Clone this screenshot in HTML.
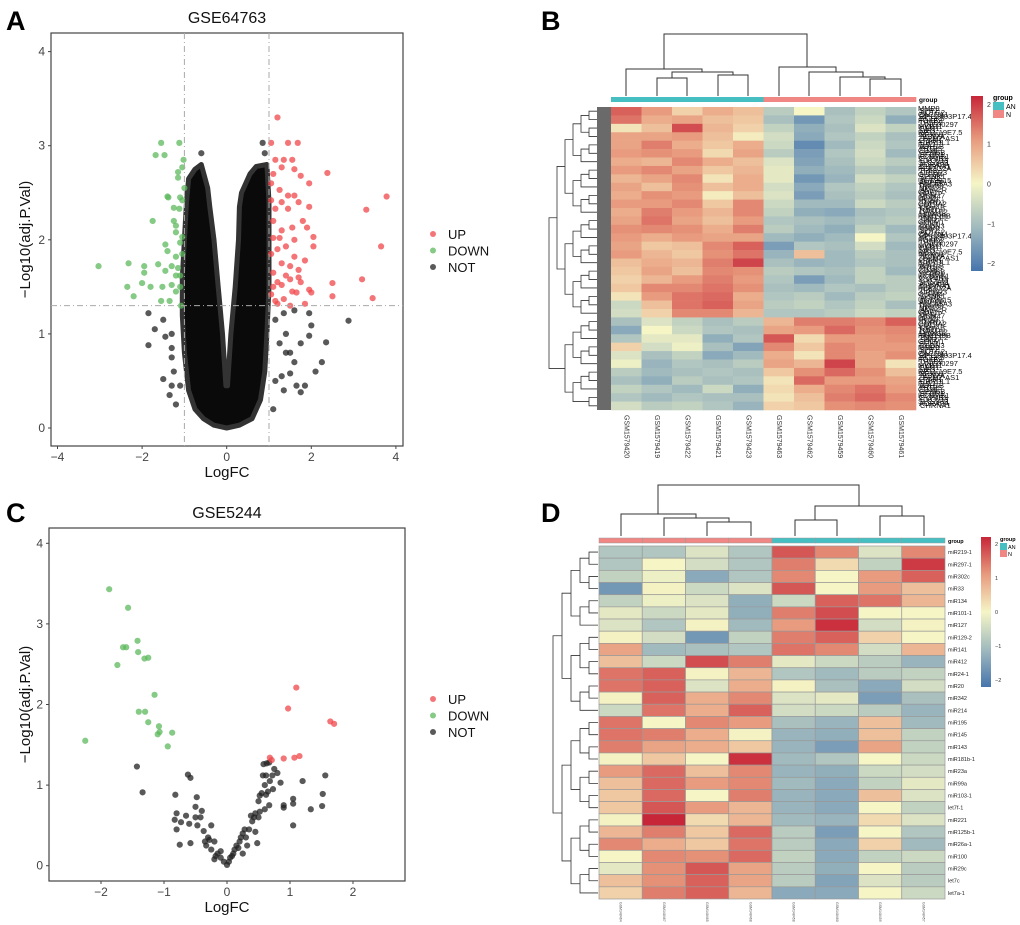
<!DOCTYPE html>
<html><head><meta charset="utf-8">
<style>
html,body{margin:0;padding:0;background:#fff;}
svg{display:block;font-family:"Liberation Sans",sans-serif;}
</style></head>
<body>
<svg id="fig" width="1020" height="925" viewBox="0 0 1020 925" xmlns="http://www.w3.org/2000/svg">
<g id="gA"></g>
<g id="gC"></g>
<g id="gB"></g>
<g id="gD"></g>
<text x="6" y="30" font-size="27" font-weight="bold">A</text>
<text x="541" y="30" font-size="27" font-weight="bold">B</text>
<text x="6" y="522" font-size="27" font-weight="bold">C</text>
<text x="541" y="522" font-size="27" font-weight="bold">D</text>
</svg>
<script>
// ---------- Panel A data ----------
const aUpX=[1.2,1.05,1.45,1.68,1.15,1.35,1.55,1.1,1.3,1.6,1.75,2.38,1.95,1.05,1.25,1.45,1.6,1.05,1.3,1.7,3.78,1.95,3.3,1.15,1.45,1.8,1.55,1.1,1.3,1.9,2.05,1.1,1.25,1.6,1.2,1.4,2.05,3.65,1.05,1.6,1.85,1.3,1.5,1.7,1.1,1.4,1.7,3.2,1.5,1.75,2.5,1.3,1.1,1.95,2.0,1.55,1.65,2.5,3.45,1.15,1.35,1.85,1.2,1.5,1.05,1.2];
const aUpY=[3.3,3.03,3.03,3.03,2.85,2.85,2.85,2.7,2.77,2.75,2.68,2.71,2.6,2.6,2.53,2.47,2.47,2.42,2.4,2.4,2.46,2.35,2.32,2.33,2.33,2.2,2.13,2.2,2.1,2.13,2.03,2.02,2.02,2.0,1.9,1.93,1.93,1.93,1.85,1.82,1.78,1.75,1.72,1.68,1.65,1.62,1.6,1.58,1.58,1.55,1.54,1.52,1.5,1.47,1.44,1.45,1.44,1.4,1.38,1.35,1.37,1.32,1.32,1.3,1.42,1.55];
const aDnX=[-1.55,-1.12,-1.68,-1.47,-1.02,-1.05,-1.15,-1.15,-1.0,-1.4,-1.38,-1.1,-1.05,-1.25,-1.12,-1.75,-1.25,-1.2,-1.2,-1.05,-1.1,-1.45,-1.4,-1.2,-1.05,-3.03,-2.32,-1.95,-1.62,-1.3,-1.15,-1.45,-1.95,-1.2,-1.1,-2.35,-2.0,-1.8,-1.52,-1.3,-1.1,-1.2,-2.2,-1.55,-1.35,-1.08];
const aDnY=[3.03,3.03,2.9,2.9,2.85,2.77,2.72,2.66,2.55,2.46,2.45,2.45,2.42,2.34,2.33,2.2,2.2,2.15,2.08,2.03,1.97,1.95,1.88,1.82,1.85,1.72,1.75,1.72,1.74,1.72,1.7,1.67,1.65,1.62,1.62,1.5,1.54,1.5,1.5,1.52,1.5,1.45,1.4,1.35,1.35,1.3];
const aNotX=[-1.85,-1.85,-1.7,-1.5,-1.5,-1.35,-1.3,-1.45,-1.3,-1.3,2.88,2.35,2.25,2.1,2.0,1.95,1.95,1.85,1.75,1.65,1.5,1.6,1.75,1.5,1.35,1.4,1.6,0.85,0.9,-0.6,1.3,1.15,-1.3,-1.25,-1.1,-1.2,1.1,1.15,1.35,1.4,1.25];
const aNotY=[1.22,0.88,1.05,1.15,0.52,0.35,0.45,0.97,1.0,0.85,1.14,0.91,0.7,0.6,1.09,0.98,1.22,0.45,0.38,0.45,0.58,0.7,0.9,0.8,0.4,1.0,1.25,3.03,2.92,2.92,0.55,0.5,0.75,0.6,0.45,0.25,0.2,1.15,1.22,0.8,0.9];
// density envelope of the non-significant cloud (LogFC, -log10 p)
const aCloudX=[0,-0.3,-0.55,-0.75,-0.9,-1.0,-1.05,-1.05,-1.0,-0.95,-0.9,-0.75,-0.6,-0.45,-0.4,-0.3,-0.2,-0.1,-0.02,0.02,0.1,0.2,0.28,0.3,0.35,0.55,0.7,0.95,1.0,1.0,1.0,0.95,0.9,0.8,0.6,0.3];
const aCloudY=[0,0.03,0.1,0.2,0.4,0.8,1.2,1.6,2.0,2.4,2.65,2.75,2.8,2.55,2.35,2.0,1.5,1.0,0.45,0.45,1.0,1.5,2.0,2.35,2.5,2.7,2.78,2.8,2.4,2.0,1.5,1.0,0.6,0.3,0.1,0.03];
const xTicksA=[-4,-2,0,2,4];
const yTicks=[0,1,2,3,4];
// ---------- Panel C data ----------
const cDnX=[-1.87,-1.57,-1.42,-1.65,-1.6,-1.41,-1.31,-1.25,-1.74,-1.15,-1.4,-1.3,-1.25,-1.08,-1.07,-1.1,-0.87,-0.94,-2.25];
const cDnY=[3.43,3.2,2.79,2.71,2.71,2.65,2.57,2.58,2.49,2.12,1.91,1.91,1.78,1.73,1.66,1.63,1.65,1.48,1.55];
const cUpX=[1.1,0.97,1.64,1.7,0.68,0.71,0.9,1.07,1.15];
const cUpY=[2.21,1.95,1.79,1.76,1.34,1.31,1.33,1.34,1.36];
const cNotX=[-1.43,-1.34,-0.62,-0.58,-0.82,-0.48,-0.5,-0.8,-0.65,-0.83,-0.73,-0.6,-0.5,-0.4,-0.42,-0.47,-0.25,-0.37,-0.8,-0.75,-0.58,-0.35,-0.3,-0.2,-0.25,-0.15,-0.1,-0.05,0,0.03,0.08,0.12,0.15,0.2,0.25,0.3,0.35,0.4,0.45,0.5,0.55,0.6,0.62,0.57,0.58,0.63,0.67,0.75,0.8,0.72,0.68,0.62,0.52,0.5,0.52,0.48,0.32,0.65,0.73,0.85,0.6,0.67,0.9,0.9,1.05,1.05,1.05,1.2,1.33,1.52,1.56,1.51,0.43,0.38,0.45,0.28,0.22,0.18,0.1,-0.1,-0.18,-0.28,-0.33,-0.2,0.05,0.25];
const cNotY=[1.23,0.91,1.13,1.09,0.88,0.85,0.73,0.65,0.62,0.57,0.54,0.52,0.6,0.68,0.6,0.5,0.5,0.43,0.45,0.26,0.28,0.3,0.35,0.3,0.2,0.15,0.1,0.05,0.01,0.05,0.12,0.2,0.25,0.3,0.4,0.35,0.45,0.55,0.65,0.8,0.9,1.0,1.12,1.12,1.26,1.27,1.28,1.2,1.15,1.12,1.05,0.88,0.87,0.6,0.67,0.28,0.25,0.92,0.95,1.03,0.7,0.75,0.75,0.72,0.83,0.77,0.5,1.05,0.7,0.89,1.12,0.74,0.6,0.62,0.42,0.45,0.35,0.22,0.15,0.18,0.12,0.32,0.25,0.08,0.1,0.15];
const xTicksC=[-2,-1,0,1,2];
// ---------- Panel B data ----------
const bSamples=["GSM1579420","GSM1579419","GSM1579422","GSM1579421","GSM1579423","GSM1579463","GSM1579462","GSM1579459","GSM1579460","GSM1579461"];
const bGroups=["AN","AN","AN","AN","AN","N","N","N","N","N"];
const bValues=[
[1.6,1.0,0.4,0.8,0.6,-0.7,0.0,-0.9,-0.6,-0.8],[1.4,0.8,0.9,0.6,0.5,-0.9,-1.6,-0.8,-0.5,-1.2],
[0.2,0.6,1.8,0.7,0.4,-0.6,-1.2,-0.9,-0.3,-0.6],[0.9,0.9,1.0,0.6,0.1,-0.4,-1.3,-0.8,-0.6,-0.9],
[0.9,1.3,0.8,0.5,0.8,-0.5,-1.8,-1.0,-0.5,-0.8],[1.0,1.1,1.0,0.3,0.9,-0.7,-1.5,-0.8,-0.4,-1.0],
[0.8,0.7,1.2,0.8,0.6,-0.3,-1.4,-0.9,-0.5,-0.7],[1.0,1.2,0.9,0.5,0.7,-0.2,-1.2,-1.0,-0.7,-0.9],
[0.7,0.9,1.2,0.2,0.8,-0.2,-1.6,-1.1,-0.4,-0.6],[0.9,0.6,1.1,0.6,0.8,-0.4,-1.3,-0.8,-0.6,-0.8],
[0.8,1.1,1.0,0.1,0.6,-0.3,-1.5,-0.9,-0.7,-0.9],[1.0,1.0,1.2,0.5,1.2,-0.5,-1.0,-1.0,-0.5,-0.7],
[0.8,1.3,1.0,0.7,1.2,-0.6,-1.2,-1.3,-0.9,-0.8],[0.9,1.4,0.9,0.6,1.0,-0.8,-0.9,-1.0,-0.8,-0.7],
[1.1,1.2,1.1,0.8,1.3,-0.7,-1.0,-1.2,-0.6,-1.0],[1.0,0.8,1.0,0.9,0.9,-1.0,-1.2,-1.0,0.0,-0.8],
[0.9,0.5,0.6,1.2,1.6,-1.5,-0.8,-0.9,-0.4,-1.0],[1.0,0.7,0.5,1.1,1.4,-1.1,0.6,-1.0,-0.7,-0.9],
[0.6,0.8,0.7,1.3,1.9,-0.9,-1.1,-1.0,-0.8,-0.9],[0.5,0.9,0.6,1.2,1.1,-0.7,-0.8,-0.9,-0.6,-1.0],
[0.4,0.7,1.0,1.3,1.0,-0.8,-1.5,-1.0,-0.6,-0.7],[0.5,1.2,1.2,1.4,1.1,-0.9,-1.0,-0.8,-0.9,-0.7],
[0.2,1.0,1.4,1.5,0.8,-0.8,-0.7,-1.0,-0.7,-0.6],[-0.5,0.6,1.4,1.6,0.9,-0.7,-0.6,-0.8,-0.6,-0.9],
[-0.4,0.4,1.2,1.2,0.7,-0.8,-0.8,-0.7,-0.5,-0.6],
[-0.9,-0.3,-0.6,-0.9,-0.7,0.7,1.3,1.3,1.2,1.6],[-1.3,0.0,-0.5,-0.8,-0.9,0.9,1.0,1.5,1.1,1.2],
[-0.8,-0.2,-0.2,-1.2,-0.8,1.7,0.3,1.0,1.0,1.1],[0.4,-0.4,-0.1,-0.9,-1.4,1.2,0.5,1.2,1.0,1.0],
[-0.3,-0.9,-0.6,-1.3,-1.0,0.8,0.2,1.2,0.9,1.1],[-0.1,-1.1,-0.8,-0.9,-0.7,0.9,0.7,1.9,0.9,0.2],
[-0.7,-1.0,-0.9,-0.8,-0.9,0.5,1.1,1.5,1.1,0.6],[-0.9,-1.2,-0.7,-0.9,-0.8,0.2,1.5,1.0,1.0,0.9],
[-0.6,-0.8,-1.0,-0.5,-1.2,0.3,0.8,1.2,1.4,1.0],[-0.8,-1.0,-0.8,-0.9,-0.9,0.2,0.6,1.3,1.5,1.2],
[-0.4,-0.7,-0.6,-0.8,-1.1,0.4,0.5,1.1,1.2,1.1]];
const bGeneLabels=["MMP9","SPP1","ACTG2","CACNA1","RP11-403P17.4","PCSK5","FOXF2","TPSB2","LINC00297","MYH11","CNN1","DES","RP11-19E7.5","NRXN1","SCN7A","ZFPM2-AS1","LPAR1","CHRDL1","FHL1","ADH1B","PTGIS","CD36","GPM6B","SFRP1","KCNMB1","CYP4B1","CXCL13","SLC7A11","ADRA2A","CHRNA1","PLA2G2A","TFF3","CRISP3","OLFM4","SPINK1","AGR2","UGT2B15","ANPEP","SLC45A3","TRPM8","NPY","AMACR","GDF15","HPN","RBM47","DLX1","PCA3","TDRD1","COL9A2","ERG","CRYAB","TOB1","OR51E2","HOXC6","FAM176B","TMEFF2","SIM2","GOLM1","SGK1","CLDN3"];
const bTicks=[-2,-1,0,1,2];
// ---------- Panel D data ----------
const dMirs=["miR219-1","miR297-1","miR302c","miR33","miR134","miR101-1","miR127","miR129-2","miR141","miR412","miR24-1","miR20","miR342","miR214","miR195","miR145","miR143","miR181b-1","miR23a","miR99a","miR103-1","let7f-1","miR221","miR125b-1","miR26a-1","miR100","miR29c","let7c","let7a-1"];
const dSamples=["GSM148464","GSM148467","GSM148465","GSM148468","GSM148458","GSM148460","GSM148459","GSM148457"];
const dGroups=["N","N","N","N","AN","AN","AN","AN"];
const dValues=[
[-0.8,-0.8,-0.3,-0.8,1.7,1.2,-0.3,1.2],[-0.8,0,-0.4,-0.8,1.3,0.3,-0.6,2],[-0.6,-0.1,-1.3,-0.8,1.2,0,1.0,1.6],
[-1.6,0.05,-0.5,-0.3,1.7,0,1.0,0.6],[-0.6,-0.1,-0.3,-1.2,-0.5,1.6,1.4,0.7],[-0.2,-0.5,-0.2,-1.2,1.3,1.8,0,0],
[-0.3,-0.8,0.05,-1.0,1.0,2.1,-0.4,0.05],[0.05,-0.4,-1.6,-0.6,1.3,1.6,0.4,0],[0.9,-1.0,-0.9,-0.8,1.4,1.2,-0.4,0.7],
[0.6,-0.5,1.8,1.3,-0.2,-0.5,-0.7,-1.1],[1.4,1.6,0.05,0.7,-0.8,-1.0,-0.7,-0.6],[1.4,1.6,-0.3,0.8,0.05,-0.9,-1.3,-0.4],
[0.05,1.6,0.8,1.2,-0.3,-0.2,-1.5,-0.9],[-0.5,1.4,0.8,1.6,-0.4,-0.5,-0.7,-1.1],[1.4,0,1.2,1.0,-0.9,-1.1,0.6,-1.0],
[1.4,1.3,0.8,0.05,-1.1,-1.2,0.6,-0.6],[1.3,0.9,0.8,0.5,-1.1,-1.5,0.9,-0.6],[0.05,0.5,0,2.1,-1.0,-0.8,0,-0.5],
[1.0,1.5,0.6,1.2,-1.1,-1.2,-0.5,-0.4],[0.6,1.5,1.0,1.2,-1.0,-1.3,-0.6,-0.2],[0.5,1.5,0,1.3,-1.1,-1.3,0.6,-0.3],
[0.5,1.7,1.0,0.7,-1.1,-1.3,0,-0.6],[0.05,2.2,0.3,0.7,-1.0,-1.1,0.3,-0.3],[0.7,1.3,0.5,1.5,-0.7,-1.5,0,-0.8],
[1.2,0.8,0.5,1.4,-0.7,-1.3,0.4,-1.0],[0,1.2,1.1,1.5,-0.6,-1.3,-0.6,-0.5],[-0.2,1.1,1.7,0.9,-0.7,-1.2,0,-0.7],
[0.6,1.1,1.6,0.9,-0.7,-1.4,-0.3,-0.7],[0.4,1.3,1.6,0.7,-1.3,-1.3,0,-0.5]];
const groupColor={AN:"#45bfc2",N:"#f08784"};

const NS="http://www.w3.org/2000/svg";
function mk(parent,tag,attrs,text){const e=document.createElementNS(NS,tag);for(const k in attrs)e.setAttribute(k,attrs[k]);if(text!==undefined)e.textContent=text;parent.appendChild(e);return e;}

// color scale
const stops=[[-2.2,[70,117,173]],[-1,[160,186,190]],[0,[245,245,198]],[1,[232,155,126]],[2.2,[199,38,56]]];
function col(v){v=Math.max(-2.2,Math.min(2.2,v));for(let i=0;i<stops.length-1;i++){const a=stops[i],b=stops[i+1];if(v<=b[0]){const t=(v-a[0])/(b[0]-a[0]);return "rgb("+a[1].map((c,j)=>Math.round(c+(b[1][j]-c)*t)).join(",")+")";}}return "rgb(199,38,56)";}

// ---------- volcano ----------
function volcano(g,cfg){
  const sx=v=>cfg.x0+v*cfg.kx, sy=v=>cfg.y0-v*cfg.ky;
  const box=mk(g,"rect",{x:cfg.L,y:cfg.T,width:cfg.R-cfg.L,height:cfg.B-cfg.T,fill:"none",stroke:"#444","stroke-width":1.2});
  
  
  const t=mk(g,"text",{x:(cfg.L+cfg.R)/2,y:cfg.T-10,"font-size":16,"text-anchor":"middle",fill:"#111"},cfg.title);
  
  
  cfg.xt.forEach(v=>{
    mk(g,"line",{x1:sx(v),x2:sx(v),y1:cfg.B,y2:cfg.B+3,stroke:"#444"});
    const l=mk(g,"text",{x:sx(v),y:cfg.B+15,"font-size":12,"text-anchor":"middle",fill:"#444"},(v<0?"\u2212"+(-v):v));
    
    
  });
  yTicks.forEach(v=>{
    mk(g,"line",{x1:cfg.L-3,x2:cfg.L,y1:sy(v),y2:sy(v),stroke:"#444"});
    const l=mk(g,"text",{x:cfg.L-6,y:sy(v)+4,"font-size":12,"text-anchor":"end",fill:"#444"},v);
    
    
  });
  const xl=mk(g,"text",{x:(cfg.L+cfg.R)/2,y:cfg.B+31,"font-size":15,"text-anchor":"middle",fill:"#111"},"LogFC");
  
  
  const yc=(cfg.T+cfg.B)/2;
  const yl=mk(g,"text",{x:30,y:yc,"font-size":15,"text-anchor":"middle",fill:"#111",transform:"rotate(-90 30 "+yc+")"},"\u2212Log10(adj.P.Val)");
  
  
  if(cfg.cloudX){
    const pts=cfg.cloudX.map((x,i)=>sx(x).toFixed(1)+","+sy(cfg.cloudY[i]).toFixed(1)).join(" ");
    const p=mk(g,"polygon",{points:pts,fill:"#0a0a0a",stroke:"#333","stroke-width":5,"stroke-linejoin":"round"});
    
    
  }
  const series=[[cfg.notX,cfg.notY,"#222","not-point"],[cfg.dnX,cfg.dnY,"#5cb85c","down-point"],[cfg.upX,cfg.upY,"#f0474a","up-point"]];
  series.forEach(s=>{s[0].forEach((x,i)=>{
    const c=mk(g,"circle",{cx:sx(x),cy:sy(s[1][i]),r:3.1,fill:s[2],"fill-opacity":0.75});
    
    
  });});
  if(cfg.lines){
    const d="6,3,1,3";
    [-1,1].forEach(v=>mk(g,"line",{x1:sx(v),x2:sx(v),y1:cfg.T,y2:cfg.B,stroke:"#aaa","stroke-dasharray":d}));
    mk(g,"line",{x1:cfg.L,x2:cfg.R,y1:sy(1.3),y2:sy(1.3),stroke:"#aaa","stroke-dasharray":d});
  }
  [["UP","#f0474a"],["DOWN","#5cb85c"],["NOT","#222"]].forEach((e,i)=>{
    const y=cfg.legY+i*16.5;
    const c=mk(g,"circle",{cx:433,cy:y,r:3,fill:e[1],"fill-opacity":0.75});
    
    
    const t=mk(g,"text",{x:448,y:y+5,"font-size":13,fill:"#111"},e[0]);
    
    
  });
}
volcano(document.getElementById("gA"),{L:51,R:403,T:33,B:446,x0:226.7,kx:42.3,y0:428,ky:94.1,title:"GSE64763",xt:xTicksA,
  upX:aUpX,upY:aUpY,dnX:aDnX,dnY:aDnY,notX:aNotX,notY:aNotY,cloudX:aCloudX,cloudY:aCloudY,lines:true,legY:234});
volcano(document.getElementById("gC"),{L:49,R:405,T:528,B:881,x0:227,kx:63,y0:865.7,ky:80.6,title:"GSE5244",xt:xTicksC,
  upX:cUpX,upY:cUpY,dnX:cDnX,dnY:cDnY,notX:cNotX,notY:cNotY,lines:false,legY:699});

// ---------- dendrogram helper (balanced over ranges) ----------
function rowTree(g,lo,hi,split,yc,xLeaf,step){
  // returns {y,x}
  function build(a,b,s){
    if(a===b) return {y:yc(a),x:xLeaf,h:0};
    const m=(s!==undefined)?s:Math.floor((a+b)/2);
    const l=build(a,m),r=build(m+1,b);
    const h=Math.max(l.h,r.h)+1, x=xLeaf-h*step;
    mk(g,"path",{d:"M"+l.x+","+l.y+"H"+x+"V"+r.y+"H"+r.x,fill:"none",stroke:"#333","stroke-width":0.8});
    return {y:(l.y+r.y)/2,x:x,h:h};
  }
  return build(lo,hi,split);
}

// ---------- Panel B ----------
(function(){
  const g=document.getElementById("gB");
  const L=611,R=916,T=107,B=410,n=bValues.length,m=bSamples.length;
  const cw=(R-L)/m, rh=(B-T)/n;
  bValues.forEach((row,i)=>row.forEach((v,j)=>{
    const r=mk(g,"rect",{x:L+j*cw,y:T+i*rh,width:cw+0.3,height:rh+0.3,fill:col(v)});
    
    
  }));
  bGroups.forEach((gr,j)=>{
    const r=mk(g,"rect",{x:L+j*cw,y:97,width:cw+0.3,height:5,fill:groupColor[gr]});
    
    
  });
  mk(g,"text",{x:919,y:102,"font-size":6.5,"font-weight":"bold"},"group");
  bSamples.forEach((s,j)=>{
    const x=L+(j+0.5)*cw-2, y=415;
    const t=mk(g,"text",{x:x,y:y,"font-size":7,fill:"#333",transform:"rotate(90 "+x+" "+y+")"},s);
    
    
  });
  // column dendrogram
  const P="M626,96V69H702V72H672V78H657V96M672,78H687V96M702,72H733V75H718V96M733,75H748V96M664,69V34H807V67H779V96M807,67H836V72H809V96M836,72H863V77H840V96M863,77H885V79H870V96M885,79H901V96";
  const cd=mk(g,"path",{d:P,fill:"none",stroke:"#333","stroke-width":1});
  
  
  // row dendrogram
  const rg=mk(g,"g",{});
  
  
  mk(rg,"rect",{x:597,y:T,width:14,height:B-T,fill:"#6a6a6a"});
  rowTree(rg,0,n-1,24,i=>T+(i+0.5)*rh,597,8);
  // gene labels
  const lg=mk(g,"g",{"font-size":7.5,fill:"#111"});
  
  
  const cnt=150;
  for(let k=0;k<cnt;k++){
    const t=mk(lg,"text",{x:918+(k%3),y:T+4+k*(B-T-4)/cnt},bGeneLabels[k%bGeneLabels.length]);
    
    
  }
  // legend
  const gr=mk(g,"defs",{});
  const lgd=mk(gr,"linearGradient",{id:"gradB",x1:0,y1:1,x2:0,y2:0});
  [-2.2,-1,0,1,2.2].forEach((v,i)=>mk(lgd,"stop",{offset:(i/4),"stop-color":col(v)}));
  const cb=mk(g,"rect",{x:971,y:96,width:12,height:175,fill:"url(#gradB)"});
  
  
  bTicks.forEach(v=>{
    const y=96+175*(2.2-v)/4.4;
    const t=mk(g,"text",{x:987,y:y+3,"font-size":7,fill:"#333"},(v<0?"\u2212"+(-v):v));
    
    
  });
  mk(g,"text",{x:993,y:100,"font-size":7,"font-weight":"bold"},"group");
  mk(g,"rect",{x:993,y:102,width:11,height:8,fill:groupColor.AN});
  mk(g,"rect",{x:993,y:110,width:11,height:8,fill:groupColor.N});
  mk(g,"text",{x:1006,y:109,"font-size":7},"AN");
  mk(g,"text",{x:1006,y:117,"font-size":7},"N");
})();

// ---------- Panel D ----------
(function(){
  const g=document.getElementById("gD");
  const L=599,R=945,T=546,B=899,n=dValues.length,m=dSamples.length;
  const cw=(R-L)/m, rh=(B-T)/n;
  dValues.forEach((row,i)=>row.forEach((v,j)=>{
    const r=mk(g,"rect",{x:L+j*cw,y:T+i*rh,width:cw,height:rh,fill:col(v),stroke:"#999","stroke-width":0.7});
    
    
  }));
  dGroups.forEach((gr,j)=>{
    const r=mk(g,"rect",{x:L+j*cw,y:538,width:cw,height:5,fill:groupColor[gr],stroke:"#999","stroke-width":0.5});
    
    
  });
  mk(g,"text",{x:948,y:543,"font-size":5.5,"font-weight":"bold"},"group");
  dMirs.forEach((s,i)=>{
    const t=mk(g,"text",{x:948,y:T+(i+0.5)*rh+2,"font-size":5.5,fill:"#222"},s);
    
    
  });
  dSamples.forEach((s,j)=>{
    const x=L+(j+0.5)*cw-1, y=902;
    const t=mk(g,"text",{x:x,y:y,"font-size":3.5,fill:"#555",transform:"rotate(90 "+x+" "+y+")"},s);
    
    
  });
  const P="M621,536V514H696V518H664V536M696,518H729V522H707V536M729,522H751V536M658,514V485H859V506H815V520H795V536M815,520H837V536M859,506H902V516H880V536M902,516H924V536";
  const cd=mk(g,"path",{d:P,fill:"none",stroke:"#333","stroke-width":1});
  
  
  const rg=mk(g,"g",{});
  
  
  rowTree(rg,0,n-1,13,i=>T+(i+0.5)*rh,598,9);
  const gr=mk(g,"defs",{});
  const lgd=mk(gr,"linearGradient",{id:"gradD",x1:0,y1:1,x2:0,y2:0});
  [-2.2,-1,0,1,2.2].forEach((v,i)=>mk(lgd,"stop",{offset:(i/4),"stop-color":col(v)}));
  const cb=mk(g,"rect",{x:981,y:537,width:10,height:150,fill:"url(#gradD)"});
  
  
  bTicks.forEach(v=>{
    const y=537+150*(2.2-v)/4.4;
    const t=mk(g,"text",{x:995,y:y+2,"font-size":5.5,fill:"#333"},(v<0?"\u2212"+(-v):v));
    
    
  });
  mk(g,"text",{x:1000,y:541,"font-size":5.5,"font-weight":"bold"},"group");
  mk(g,"rect",{x:1000,y:543,width:7,height:7,fill:groupColor.AN});
  mk(g,"rect",{x:1000,y:550,width:7,height:7,fill:groupColor.N});
  mk(g,"text",{x:1008,y:549,"font-size":5.5},"AN");
  mk(g,"text",{x:1008,y:556,"font-size":5.5},"N");
})();
</script>
</body></html>
